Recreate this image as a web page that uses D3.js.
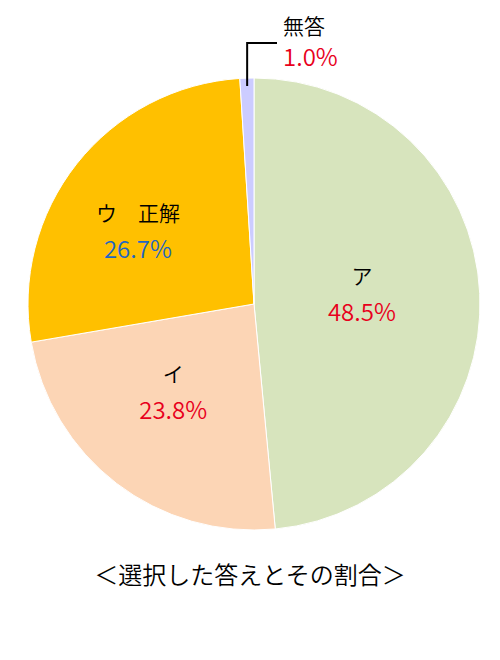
<!DOCTYPE html>
<html>
<head>
<meta charset="utf-8">
<script src="https://cdn.jsdelivr.net/npm/d3@7"></script>
<style>
  body { margin: 0; background: #fff; }
  text { font-family: "Noto Sans CJK JP", "Noto Sans", sans-serif; font-weight: 350; }
</style>
</head>
<body>
<div id="chart"></div>
<script>
var svgWidth = 500;
var svgHeight = 660;

// data
var categories = ["ア", "イ", "ウ\u3000正解", "無答"];
var shares = [48.5, 23.8, 26.7, 1.0];
var colors = ["#D7E4BD", "#FCD5B5", "#FFC000", "#CCCCFF"];
var valueColors = ["#E8001C", "#E8001C", "#1F66C2", "#E8001C"];
var title = "＜選択した答えとその割合＞";

var cx = 254, cy = 304, radius = 226;

var svg = d3.select("#chart")
  .append("svg")
  .attr("width", svgWidth)
  .attr("height", svgHeight);

var pieGroup = svg.append("g")
  .attr("transform", `translate(${cx}, ${cy})`);

var pie = d3.pie().sort(null).value(d => d);
var arcs = pie(shares);

var arc = d3.arc().innerRadius(0).outerRadius(radius);

pieGroup.selectAll("path")
  .data(arcs)
  .enter()
  .append("path")
  .attr("d", arc)
  .attr("fill", (d, i) => colors[i])
  .attr("stroke", "#fff")
  .attr("stroke-width", 1);

// label spots inside the slices (fraction of radius, then a nudge)
var labelArc = [0.478, 0.588, 0.655];
var labelShift = [[0, 3], [0, -10], [0, 27]];

arcs.slice(0, 3).forEach(function(d, i) {
  var a = (d.startAngle + d.endAngle) / 2;
  var r = radius * labelArc[i];
  var x = Math.sin(a) * r + labelShift[i][0];
  var y = -Math.cos(a) * r + labelShift[i][1];
  pieGroup.append("text")
    .attr("x", x)
    .attr("y", y - 18)
    .attr("text-anchor", "middle")
    .attr("font-size", 21)
    .attr("fill", "#000")
    .text(categories[i]);
  pieGroup.append("text")
    .attr("x", x)
    .attr("y", y + 19)
    .attr("text-anchor", "middle")
    .attr("font-size", 24)
    .attr("fill", valueColors[i])
    .text(shares[i].toFixed(1) + "%");
});

// leader line for the small slice
var small = arcs[3];
var sa = (small.startAngle + small.endAngle) / 2;
var sx = cx + Math.sin(sa) * (radius - 8);
var sy = cy - Math.cos(sa) * (radius - 8);

svg.append("path")
  .attr("d", `M${sx},${sy}V43H277`)
  .attr("fill", "none")
  .attr("stroke", "#000")
  .attr("stroke-width", 2);

svg.append("text")
  .attr("x", 283)
  .attr("y", 34)
  .attr("font-size", 21)
  .attr("fill", "#000")
  .text(categories[3]);

svg.append("text")
  .attr("x", 283)
  .attr("y", 66)
  .attr("font-size", 24)
  .attr("fill", valueColors[3])
  .text(shares[3].toFixed(1) + "%");

svg.append("text")
  .attr("x", 250)
  .attr("y", 584)
  .attr("text-anchor", "middle")
  .attr("font-size", 24)
  .attr("fill", "#000")
  .text(title);
</script>
</body>
</html>
